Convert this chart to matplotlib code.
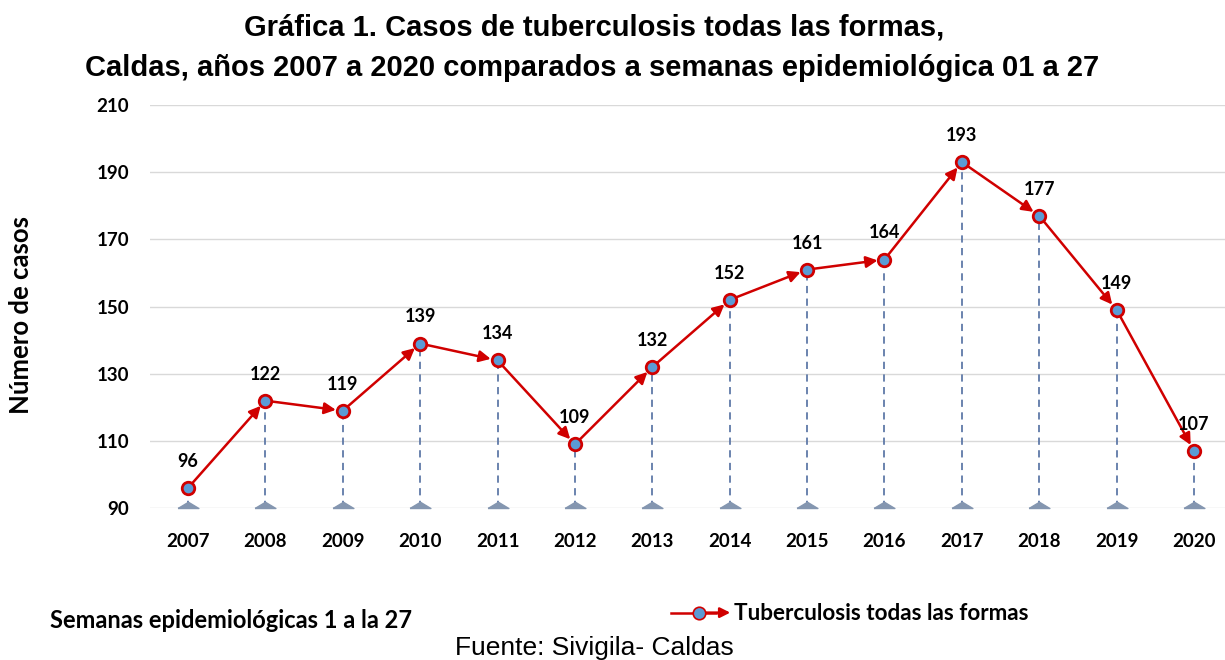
import matplotlib.pyplot as plt
import numpy as np
from matplotlib.legend_handler import HandlerBase
from matplotlib.lines import Line2D
from matplotlib.patches import FancyArrowPatch

years = ['2007', '2008', '2009', '2010', '2011', '2012', '2013',
         '2014', '2015', '2016', '2017', '2018', '2019', '2020']
casos = [96, 122, 119, 139, 134, 109, 132, 152, 161, 164, 193, 177, 149, 107]
y_ticks = [90, 110, 130, 150, 170, 190, 210]

RED = '#d00000'
BLUE = '#5b9bd5'
DROP = '#5f79a8'
TRI = '#8496b0'
CAL = 'Lato'
ARIAL = 'Liberation Sans'


class ArrowMarkerHandler(HandlerBase):
    def create_artists(self, legend, orig_handle, xdescent, ydescent,
                       width, height, fontsize, trans):
        y = height / 2 - ydescent
        line = Line2D([-xdescent, width * 0.8], [y, y], color=RED, lw=1.8,
                      transform=trans)
        arr = FancyArrowPatch((width * 0.5, y), (width + 4, y),
                              arrowstyle='-|>', mutation_scale=15,
                              color=RED, lw=1.8, transform=trans)
        dot = Line2D([width * 0.5], [y], marker='o', ms=9, mfc=BLUE,
                     mec=RED, mew=1.2, ls='', transform=trans)
        return [line, arr, dot]


fig = plt.figure(figsize=(12.25, 6.6), dpi=100)
ax = fig.add_axes([0.1225, 0.23, 0.8775, 0.611])

x = np.arange(len(years))
ax.set_xlim(-0.49, 13.4)
ax.set_ylim(90, 210)

for v in y_ticks:
    ax.axhline(v, color='#d9d9d9', lw=1, zorder=0)

# drop lines
ax.vlines(x, 90, casos, colors=DROP, linestyles=(0, (4, 3)), lw=1.3, zorder=1)
tri = [(-1, 0), (1, 0), (0, 0.6), (-1, 0)]
ax.plot(x, [90] * len(x), ls='', marker=tri, ms=15, color=TRI, zorder=2,
        clip_on=False)

# line segments with arrowheads
for i in range(1, len(x)):
    ax.annotate('', xy=(x[i], casos[i]), xytext=(x[i - 1], casos[i - 1]),
                arrowprops=dict(arrowstyle='-|>', color=RED, lw=1.8,
                                mutation_scale=17, shrinkA=0, shrinkB=5),
                zorder=3)
ax.plot(x, casos, ls='', marker='o', ms=9, mfc=BLUE, mec=RED, mew=2, zorder=4)

for xi, v in zip(x, casos):
    ax.annotate(str(v), (xi, v), xytext=(0, 13), textcoords='offset points',
                ha='center', va='bottom', fontsize=13, fontweight='bold',
                family=CAL)

ax.set_xticks(x)
ax.set_xticklabels(years, fontsize=13.5, fontweight='bold', family=CAL)
ax.set_yticks(y_ticks)
ax.set_yticklabels([str(t) for t in y_ticks], fontsize=13.5, fontweight='bold',
                   family=CAL)
ax.tick_params(axis='x', length=0, pad=18)
ax.tick_params(axis='y', length=0, pad=15)
for s in ax.spines.values():
    s.set_visible(False)

fig.text(21 / 1225, 1 - 315 / 660, 'Número de casos', rotation=90,
         ha='center', va='center', fontsize=18.5, fontweight='bold', family=CAL)

fig.text(594 / 1225, 1 - 35 / 660, 'Gráfica 1. Casos de tuberculosis todas las formas,',
         ha='center', va='baseline', fontsize=21, fontweight='bold', family=ARIAL)
fig.text(592 / 1225, 1 - 76 / 660,
         'Caldas, años 2007 a 2020 comparados a semanas epidemiológica 01 a 27',
         ha='center', va='baseline', fontsize=21, fontweight='bold', family=ARIAL)

fig.text(50 / 1225, 1 - 628 / 660, 'Semanas epidemiológicas 1 a la 27',
         ha='left', va='baseline', fontsize=17, fontweight='bold', family=CAL)
fig.text(594 / 1225, 1 - 655 / 660, 'Fuente: Sivigila- Caldas',
         ha='center', va='baseline', fontsize=19, family=ARIAL)

leg = fig.legend([Line2D([], [])], ['Tuberculosis todas las formas'],
                 handler_map={Line2D: ArrowMarkerHandler()},
                 loc='center left', bbox_to_anchor=(660 / 1225, 1 - 614 / 660),
                 frameon=False, handlelength=2.5, handletextpad=0.3,
                 borderpad=0, prop={'family': CAL, 'weight': 'bold', 'size': 16.2})

fig.savefig('out.png', dpi=100)
